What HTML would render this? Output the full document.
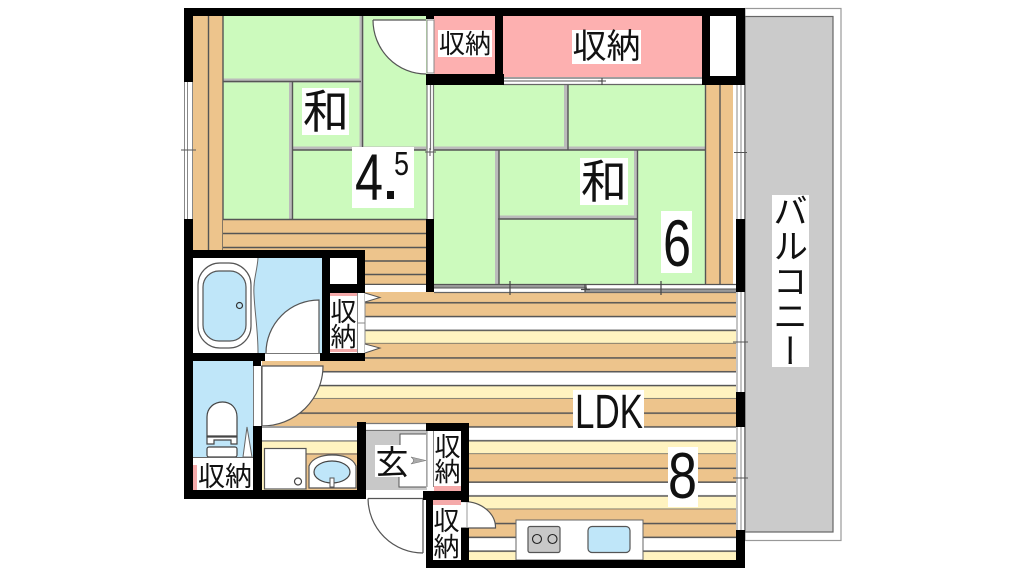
<!DOCTYPE html>
<html lang="ja"><head><meta charset="utf-8"><title>間取り図</title>
<style>
html,body{margin:0;padding:0;background:#fff;width:1024px;height:576px;overflow:hidden}
#w{position:absolute;left:0;top:0;width:1024px;height:576px;filter:blur(0.35px)}
svg{display:block;position:absolute;left:0;top:0}
text{font-family:"Liberation Sans","Noto Sans CJK JP",sans-serif;fill:#111}
.j{font-family:"Noto Sans CJK JP","Liberation Sans",sans-serif;text-anchor:middle}
.v{position:absolute;left:772px;top:195px;width:37px;height:172px;background:#fff;font-family:"Noto Sans CJK JP",sans-serif;font-size:35px;line-height:37px;writing-mode:vertical-rl;color:#111;letter-spacing:0;white-space:nowrap;text-align:center;overflow:hidden}
.v span{position:relative;top:-2px}
</style></head><body>
<div id="w">
<svg width="1024" height="576" viewBox="0 0 1024 576">
<defs>
<pattern id="st" patternUnits="userSpaceOnUse" x="0" y="288.500" width="10" height="55.200">
<rect width="10" height="28" y="0" fill="#edc48c"/>
<rect width="10" height="14" y="28" fill="#fff"/>
<rect width="10" height="14" y="42" fill="#fff3c0"/>
<rect width="10" height="1.500" y="13.500" fill="#555"/><rect width="10" height="1.500" y="27.300" fill="#555"/><rect width="10" height="1.500" y="41.100" fill="#555"/><rect width="10" height="1.500" y="54.500" fill="#555"/>
</pattern>
</defs>
<!-- balcony -->
<rect x="745" y="8.500" width="96" height="532" fill="#fff" stroke="#999" stroke-width="1.200"/>
<rect x="745" y="16.500" width="88" height="515.500" fill="#cbcbcb" stroke="#666" stroke-width="1.200"/>

<!-- room 1 tatami -->
<rect x="223" y="16" width="204" height="204" fill="#ccfabd"/>
<g fill="none" stroke="#bbb" stroke-width="4"><path d="M223 80.500H361M361.500 16V150M291 81V219M292 148.500H426"/></g>
<g fill="none" stroke="#555" stroke-width="1.400"><path d="M223 81.500H361M362.500 16V150M292.500 81V219M292 150H426"/></g>
<!-- left wood strip -->
<rect x="193" y="16" width="30" height="235" fill="#edc48c"/>
<path d="M208.500 16V250M223 16V250" stroke="#555" stroke-width="1.400"/>
<!-- wood lower -->
<rect x="223" y="219" width="204" height="32" fill="#edc48c"/>
<rect x="365" y="250" width="62" height="42" fill="#edc48c"/>
<path d="M223 219.500H427M223 233.500H427M223 247.500H427M365 261H427M365 274.500H427M365 284.500H427" stroke="#555" stroke-width="1.400"/>
<rect x="365" y="285" width="62" height="8" fill="#fff"/>

<!-- room 2 tatami -->
<rect x="434" y="85" width="272" height="200" fill="#ccfabd"/>
<g fill="none" stroke="#bbb" stroke-width="4"><path d="M566 85V150M434 148.500H705M497 150V284M636 150V284M498 217.500H637"/></g>
<g fill="none" stroke="#555" stroke-width="1.400"><path d="M568 85V150M434 150H705M499 150V284M637.500 150V284M498 219H637"/></g>
<rect x="705" y="85" width="29" height="200" fill="#edc48c"/>
<path d="M705.500 85V284M720 85V284" stroke="#555" stroke-width="1.400"/>
<rect x="733" y="85" width="4" height="207" fill="#fff"/>

<!-- LDK floor -->
<rect x="365" y="292" width="372" height="70" fill="url(#st)"/>
<rect x="262" y="360" width="475" height="67" fill="url(#st)"/>
<rect x="469" y="426" width="268" height="135" fill="url(#st)"/>
<rect x="365" y="293" width="15" height="2" fill="#edc48c"/>

<!-- sliding door between LDK and room 2 -->
<rect x="434" y="284" width="302" height="9" fill="#fff"/>
<path d="M434 284.500H736" stroke="#555" stroke-width="1.200"/>
<rect x="434" y="285" width="153" height="2.500" fill="#999"/>
<path d="M434 288H587" stroke="#555" stroke-width="1"/>
<rect x="585" y="289" width="151" height="3" fill="#999"/>
<path d="M585 289H736" stroke="#555" stroke-width="1"/>
<path d="M434 292.500H736" stroke="#666" stroke-width="1.200"/>
<path d="M510 281V295M585 284V292M581 289.500H590M661 281V295" stroke="#444" stroke-width="1.200"/>

<!-- storage pink -->
<rect x="434" y="16" width="62" height="62" fill="#fdb0b0"/>
<rect x="503" y="16" width="200" height="62" fill="#fdb0b0"/>
<!-- sliding door under storage -->
<rect x="503" y="77" width="200" height="8" fill="#fff"/>
<path d="M503 78H702M503 84.500H702" stroke="#666" stroke-width="1.300"/>
<path d="M503 81H602" stroke="#777" stroke-width="1.300"/>
<path d="M602 78V85M598 81H606" stroke="#444" stroke-width="1.100"/>
<!-- white box -->
<rect x="710" y="16" width="26" height="61" fill="#fff"/>

<!-- door room 1 -->
<path d="M373 20H426V74A53 54 0 0 1 373 20Z" fill="#fff"/>
<path d="M373 20H426M373 20A53 54 0 0 0 426 74" fill="none" stroke="#555" stroke-width="1.200"/>
<rect x="427" y="20" width="7" height="53" fill="#fff" stroke="#888" stroke-width="1"/>

<!-- sliding between rooms -->
<rect x="427" y="85" width="7" height="134" fill="#fff"/>
<path d="M427 85V219M433.500 85V219M430.500 85V150" stroke="#777" stroke-width="1.200"/>
<path d="M425 152H436M430 148V156" stroke="#555" stroke-width="1"/>

<!-- left window -->
<rect x="184" y="82" width="9" height="137" fill="#fff"/>
<path d="M184.500 82V219M187.500 82V219M192.500 82V219" stroke="#888" stroke-width="1"/>
<path d="M181 150H196" stroke="#555" stroke-width="1"/>
<!-- right window upper -->
<rect x="736" y="85" width="9" height="134" fill="#fff"/>
<path d="M737 85V219M741 85V219M744.500 85V219" stroke="#888" stroke-width="1"/>
<path d="M734 152.500H747" stroke="#555" stroke-width="1"/>
<!-- right windows LDK -->
<rect x="736" y="292" width="9" height="240" fill="#fff"/>
<path d="M737 292V532M741 292V532M744.500 292V532" stroke="#888" stroke-width="1"/>
<path d="M733 342H748M733 478H748" stroke="#555" stroke-width="1"/>

<!-- bath -->
<rect x="193" y="258" width="130" height="96" fill="#bfe6f9"/>
<path d="M193 258H258C257 272 253 280 254 295C255 315 258 330 258 353H193Z" fill="#fff"/>
<path d="M258 258C257 272 253 280 254 295C255 315 258 330 258 353" fill="none" stroke="#666" stroke-width="1"/>
<rect x="198" y="263" width="53" height="85" rx="22" fill="#fff" stroke="#555" stroke-width="1.200"/>
<rect x="203" y="271" width="43" height="70" rx="16" fill="#bfe6f9" stroke="#555" stroke-width="1.200"/>
<circle cx="239.500" cy="305.500" r="3" fill="#bfe6f9" stroke="#333" stroke-width="1.200"/>
<path d="M319 300V353H266A53 53 0 0 1 319 300Z" fill="#fff"/>
<path d="M266 353A53 53 0 0 1 319 300V353" fill="none" stroke="#555" stroke-width="1.200"/>
<rect x="265" y="353" width="55" height="8" fill="#fff"/>
<path d="M265 353.500H320" stroke="#777" stroke-width="1"/>
<!-- box near bath -->
<rect x="330" y="258" width="27" height="26" fill="#fff"/>
<!-- storage bath -->
<rect x="330" y="293" width="27" height="60" fill="#fff"/>
<rect x="330" y="293" width="27" height="3" fill="#f5aaaa"/>
<rect x="330" y="349" width="27" height="3" fill="#f5aaaa"/>
<rect x="357" y="293" width="8" height="60" fill="#fff"/>
<path d="M357.500 293V353M365 293V353M357 323H365" stroke="#888" stroke-width="1"/>
<path d="M365 293L380 297.500L365 302M365 344L380 348L365 353" fill="#fff" stroke="#555" stroke-width="1"/>

<!-- toilet -->
<rect x="193" y="361" width="60" height="96" fill="#bfe6f9"/>
<path d="M207 436V417C207 408 214 402 222.500 402C231 402 237 408 237 417V436Z" fill="#fff" stroke="#444" stroke-width="1.200"/>
<path d="M207 437H237V444H231V440H214V444H207Z" fill="#fff" stroke="#444" stroke-width="1.200"/>
<rect x="207" y="447" width="30" height="10" rx="2" fill="#fff" stroke="#444" stroke-width="1.200"/>
<path d="M247 427L243 457H252Z" fill="#fff" stroke="#666" stroke-width="1"/>
<rect x="193" y="457" width="60" height="33" fill="#fff"/>
<path d="M193 457.500H253" stroke="#666" stroke-width="1"/>
<rect x="193" y="465" width="4" height="25" fill="#f5aaaa"/>
<rect x="253" y="361" width="9" height="65" fill="#fff"/>
<path d="M253.500 366V426M261.500 366V426" stroke="#777" stroke-width="1"/>
<path d="M262 366H323A61 60 0 0 1 262 426Z" fill="#fff"/>
<path d="M262 426V366H323A61 60 0 0 1 262 426" fill="none" stroke="#555" stroke-width="1.200"/>

<!-- washroom -->
<rect x="262" y="426" width="95" height="64" fill="#fff"/>
<path d="M262 427H357M262 441H357" stroke="#666" stroke-width="1.200"/>
<rect x="262" y="441" width="95" height="49" fill="#fff3c0"/>
<rect x="306" y="453" width="51" height="37" fill="#edc48c"/>
<path d="M262 441H357M306 454H357" stroke="#666" stroke-width="1"/>
<rect x="264.500" y="448.500" width="41.500" height="40.500" fill="#fff" stroke="#555" stroke-width="1.200"/>
<circle cx="298" cy="481.500" r="3.500" fill="#fff" stroke="#444" stroke-width="1.200"/>
<path d="M309 488V466C312 458 322 455 332 455C343 455 353 458 356 466V488Z" fill="#fff" stroke="#555" stroke-width="1.200"/>
<ellipse cx="332" cy="472" rx="18" ry="11" fill="#bfe6f9" stroke="#444" stroke-width="1.200"/>
<rect x="330" y="478" width="4" height="9" fill="#fff" stroke="#555" stroke-width="1"/>

<!-- genkan -->
<rect x="366" y="423" width="61" height="8" fill="#fff"/>
<path d="M366 423.500H426M366 430.500H426" stroke="#777" stroke-width="1.200"/>
<rect x="366" y="431" width="61" height="59" fill="#c8c8c8"/>
<path d="M400 434H426V487H399V477L404 476V446L400 445Z" fill="#fff"/>
<path d="M400 445V434H426M399 477V487H426" fill="none" stroke="#555" stroke-width="1"/>
<path d="M411 457L426 460.500L411 464Q416 460.500 411 457Z" fill="#aaa" stroke="#777" stroke-width=".6"/>
<rect x="427" y="431" width="7" height="56" fill="#fff"/>
<path d="M427 431V487M433.500 431V487" stroke="#888" stroke-width="1"/>
<rect x="366" y="490" width="58" height="9" fill="#fff"/>
<path d="M368 498.500H423M423 498.500V553M368 498.500A55 55 0 0 0 423 553" fill="none" stroke="#555" stroke-width="1.200"/>

<!-- storage lower -->
<rect x="434" y="431" width="27" height="56" fill="#fff"/>
<rect x="434" y="486" width="27" height="5" fill="#f5aaaa"/>
<rect x="433" y="500" width="28" height="5" fill="#f5aaaa"/>
<rect x="433" y="505" width="28" height="56" fill="#fff"/>
<path d="M461 528V502H464A32 26 0 0 1 495.500 528Z" fill="#fff"/>
<path d="M461 501.500H464A32 26 0 0 1 495.500 528H461" fill="none" stroke="#555" stroke-width="1.200"/>
<path d="M467 502V528" stroke="#999" stroke-width="1"/>

<!-- kitchen -->
<rect x="516" y="520" width="127" height="40" fill="#fff" stroke="#666" stroke-width="1"/>
<rect x="528" y="526.500" width="32" height="26" rx="2" fill="#c8c8c8" stroke="#555" stroke-width="1.200"/>
<circle cx="537" cy="539" r="4.500" fill="#c8c8c8" stroke="#222" stroke-width="1.100"/>
<circle cx="552.500" cy="539" r="4.500" fill="#c8c8c8" stroke="#222" stroke-width="1.100"/>
<rect x="588" y="526.500" width="42" height="26" rx="4" fill="#bfe6f9" stroke="#555" stroke-width="1.200"/>

<!-- walls -->
<g fill="#000">
<rect x="184" y="8" width="561" height="8"/>
<rect x="184" y="8" width="9" height="74"/>
<rect x="184" y="219" width="9" height="280"/>
<rect x="184" y="490" width="182" height="9"/>
<rect x="426" y="16" width="8" height="3"/>
<rect x="426" y="74" width="78" height="11"/>
<rect x="495" y="16" width="8" height="69"/>
<rect x="702" y="16" width="8" height="69"/>
<rect x="702" y="76" width="43" height="9"/>
<rect x="736" y="8" width="9" height="77"/>
<rect x="426" y="219" width="8" height="73"/>
<rect x="736" y="219" width="9" height="73"/>
<rect x="736" y="392" width="9" height="35"/>
<rect x="736" y="530" width="9" height="38"/>
<rect x="184" y="250" width="181" height="8"/>
<rect x="322" y="250" width="8" height="111"/>
<rect x="357" y="250" width="8" height="43"/>
<rect x="330" y="284" width="35" height="9"/>
<rect x="320" y="353" width="45" height="8"/>
<rect x="184" y="353" width="81" height="8"/>
<rect x="253" y="361" width="8" height="5"/>
<rect x="253" y="426" width="9" height="73"/>
<rect x="357" y="422" width="9" height="77"/>
<rect x="426" y="423" width="43" height="8"/>
<rect x="461" y="423" width="8" height="79"/>
<rect x="461" y="528" width="8" height="32"/>
<rect x="423" y="491" width="46" height="9"/>
<rect x="426" y="491" width="7" height="77"/>
<rect x="426" y="560" width="319" height="8"/>
</g>

<!-- label backgrounds -->
<g fill="#fff">
<rect x="302" y="88" width="47" height="47"/>
<rect x="352" y="147" width="62" height="61"/>
<rect x="580" y="158" width="48" height="47"/>
<rect x="661" y="211" width="31" height="62"/>
<rect x="438" y="30" width="54" height="27"/>
<rect x="572" y="30" width="69" height="34"/>
<rect x="573" y="390" width="71" height="42"/>
<rect x="668" y="447" width="30" height="60"/>
<rect x="375" y="445" width="35" height="32"/>
<rect x="197" y="462" width="56" height="27"/>
</g>

<!-- labels -->
<text class="j" x="326" y="128" font-size="46">和</text>
<text class="j" x="604" y="198" font-size="46">和</text>
<text x="355" y="200" font-size="66" textLength="28" lengthAdjust="spacingAndGlyphs">4</text>
<rect x="387" y="191" width="7" height="8" fill="#111"/>
<text x="394" y="175" font-size="33" textLength="15" lengthAdjust="spacingAndGlyphs">5</text>
<text x="663" y="266" font-size="66" textLength="28" lengthAdjust="spacingAndGlyphs">6</text>
<text x="668" y="498" font-size="65" textLength="29" lengthAdjust="spacingAndGlyphs">8</text>
<text x="575" y="428" font-size="48" textLength="68" lengthAdjust="spacingAndGlyphs">LDK</text>
<text class="j" x="465" y="53" font-size="26">収納</text>
<text class="j" x="606.500" y="58" font-size="34">収納</text>
<text class="j" x="343.500" y="321" font-size="26">収</text>
<text class="j" x="343.500" y="346" font-size="26">納</text>
<text class="j" x="225" y="486" font-size="27">収納</text>
<text class="j" x="447.500" y="456" font-size="26">収</text>
<text class="j" x="447.500" y="481" font-size="26">納</text>
<text class="j" x="446.500" y="530" font-size="26">収</text>
<text class="j" x="446.500" y="556" font-size="26">納</text>
<text class="j" x="392" y="474" font-size="33">玄</text>
</svg>
<div class="v"><span>バルコニー</span></div>
</div>
</body></html>
